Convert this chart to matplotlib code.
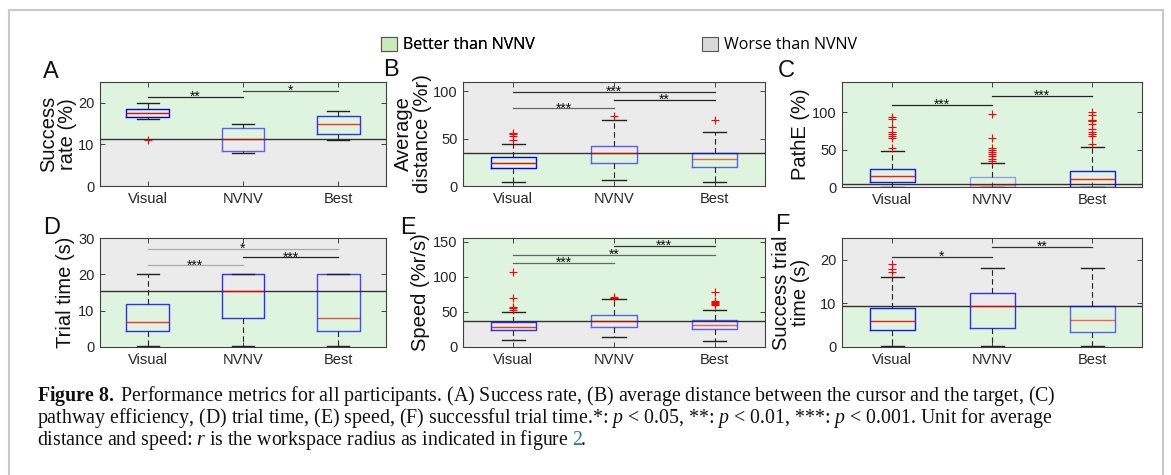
import matplotlib
matplotlib.use('Agg')
import matplotlib.pyplot as plt
from matplotlib.patches import Patch
from matplotlib.lines import Line2D

plt.rcParams['font.family'] = ['Liberation Sans', 'DejaVu Sans']
plt.rcParams['mathtext.fontset'] = 'custom'
plt.rcParams['mathtext.rm'] = 'Liberation Serif'
plt.rcParams['mathtext.it'] = 'Liberation Serif:italic'
plt.rcParams['mathtext.bf'] = 'Liberation Serif:bold'

groups = ['Visual', 'NVNV', 'Best']

# ---------------- data ----------------
# A: success rate (%)
A_med = [17.5, 11.4, 15.0]
A_q1 = [16.5, 8.5, 12.4]
A_q3 = [18.6, 14.0, 16.9]
A_lo = [16.0, 8.0, 11.0]
A_hi = [20.0, 15.0, 18.0]
A_fliers = [[11.0], [], []]
A_ref = 11.4
A_sig_pairs = [(1, 2), (2, 3)]
A_sig_y = [21.4, 22.9]
A_sig_txt = ['**', '*']

# B: average distance (%r)
B_med = [24.0, 34.7, 28.6]
B_q1 = [19.5, 24.7, 20.1]
B_q3 = [30.5, 42.1, 35.3]
B_lo = [4.0, 6.5, 4.0]
B_hi = [44.0, 69.3, 57.0]
B_fliers = [[49.0, 53.0, 55.0, 56.0], [74.5], [70.0]]
B_ref = 34.7
B_sig_pairs = [(1, 3), (2, 3), (1, 2)]
B_sig_y = [99.7, 91.0, 82.0]
B_sig_txt = ['***', '**', '***']

# C: path efficiency (%)
C_med = [14.5, 3.0, 10.5]
C_q1 = [7.0, 0.0, 0.0]
C_q3 = [24.4, 13.8, 21.8]
C_lo = [0.0, 0.0, 0.0]
C_hi = [48.5, 32.4, 53.3]
C_fliers = [[52.0, 66.0, 68.0, 71.0, 73.0, 80.0, 91.0, 94.0],
            [35.0, 38.0, 41.0, 44.0, 47.0, 50.0, 52.0, 65.0, 98.0],
            [57.0, 68.0, 71.0, 74.0, 78.0, 84.0, 88.0, 89.0, 90.0, 96.0, 100.0]]
C_ref = 4.0
C_sig_pairs = [(1, 2), (2, 3)]
C_sig_y = [110.0, 122.0]
C_sig_txt = ['***', '***']

# D: trial time (s)
D_med = [6.9, 15.3, 8.0]
D_q1 = [4.3, 8.0, 4.5]
D_q3 = [11.8, 20.0, 20.0]
D_lo = [0.3, 0.3, 0.3]
D_hi = [20.0, 20.0, 20.0]
D_fliers = [[], [], []]
D_ref = 15.4
D_sig_pairs = [(1, 3), (2, 3), (1, 2)]
D_sig_y = [27.1, 24.7, 22.5]
D_sig_txt = ['*', '***', '***']

# E: speed (%r/s)
E_med = [28.6, 36.7, 31.4]
E_q1 = [23.8, 28.6, 26.2]
E_q3 = [35.2, 44.8, 39.0]
E_lo = [9.5, 14.3, 8.1]
E_hi = [50.0, 67.6, 52.4]
E_fliers = [[52.0, 55.0, 57.0, 69.0, 107.0], [70.0, 71.0],
            [60.0, 61.0, 62.0, 64.0, 65.5, 78.5]]
E_ref = 36.7
E_sig_pairs = [(2, 3), (1, 3), (1, 2)]
E_sig_y = [143.8, 131.4, 119.5]
E_sig_txt = ['***', '**', '***']

# F: successful trial time (s)
F_med = [6.0, 9.3, 6.1]
F_q1 = [3.9, 4.3, 3.4]
F_q3 = [9.0, 12.3, 9.4]
F_lo = [0.3, 0.3, 0.3]
F_hi = [16.0, 18.1, 18.1]
F_fliers = [[17.3, 18.0, 19.1], [], []]
F_ref = 9.3
F_sig_pairs = [(1, 2), (2, 3)]
F_sig_y = [20.7, 23.0]
F_sig_txt = ['*', '**']

# ---------------- styles / layout ----------------
W, H = 1171, 475
GREEN = '#dff4df'
GRAY = '#ebebeb'
AXC = '#262626'


def rect(l, r, t, b):
    return [l / W, 1 - b / H, (r - l) / W, (b - t) / H]


fig = plt.figure(figsize=(W / 100, H / 100), dpi=100)

panels = [
    dict(letter='A', pos=rect(100, 386, 82, 186), lp=(43, 78),
         data=(A_med, A_q1, A_q3, A_lo, A_hi, A_fliers, A_ref, A_sig_pairs, A_sig_y, A_sig_txt),
         ylim=(0, 25), yticks=[0, 10, 20], ylabel='Success\nrate (%)', better='above',
         lx=-0.080, box_alpha=[1.0, 0.6, 0.8], sig_col=['#222222', '#444444']),
    dict(letter='B', pos=rect(463, 765, 82, 186), lp=(383, 76),
         data=(B_med, B_q1, B_q3, B_lo, B_hi, B_fliers, B_ref, B_sig_pairs, B_sig_y, B_sig_txt),
         ylim=(0, 110), yticks=[0, 50, 100], ylabel='Average\ndistance (%r)', better='below',
         lx=-0.103, box_alpha=[1.0, 0.6, 0.6], sig_col=['#333333', '#222222', '#666666']),
    dict(letter='C', pos=rect(842, 1142, 82, 187), lp=(778, 77),
         data=(C_med, C_q1, C_q3, C_lo, C_hi, C_fliers, C_ref, C_sig_pairs, C_sig_y, C_sig_txt),
         ylim=(0, 140), yticks=[0, 50, 100], ylabel='PathE (%)', better='above',
         lx=-0.107, box_alpha=[0.9, 0.35, 0.9], sig_col=['#222222', '#222222']),
    dict(letter='D', pos=rect(100, 386, 238, 347), lp=(43, 234),
         data=(D_med, D_q1, D_q3, D_lo, D_hi, D_fliers, D_ref, D_sig_pairs, D_sig_y, D_sig_txt),
         ylim=(0, 30), yticks=[0, 10, 20, 30], ylabel='Trial time (s)', better='below',
         lx=-0.087, box_alpha=[0.8, 0.8, 0.7], sig_col=['#aaaaaa', '#222222', '#aaaaaa']),
    dict(letter='E', pos=rect(463, 765, 238, 347), lp=(400, 234),
         data=(E_med, E_q1, E_q3, E_lo, E_hi, E_fliers, E_ref, E_sig_pairs, E_sig_y, E_sig_txt),
         ylim=(0, 155), yticks=[0, 50, 100, 150], ylabel='Speed (%r/s)', better='above',
         lx=-0.109, box_alpha=[0.8, 0.6, 0.6], sig_col=['#333333', '#666666', '#666666']),
    dict(letter='F', pos=rect(842, 1142, 238, 347), lp=(775, 231),
         data=(F_med, F_q1, F_q3, F_lo, F_hi, F_fliers, F_ref, F_sig_pairs, F_sig_y, F_sig_txt),
         ylim=(0, 25), yticks=[0, 10, 20], ylabel='Success trial\ntime (s)', better='below',
         lx=-0.107, box_alpha=[0.9, 0.8, 0.6], sig_col=['#333333', '#333333']),
]

positions = [1, 2, 3]
for p in panels:
    ax = fig.add_axes(p['pos'])
    med, q1, q3, lo, hi, fl, ref, pairs, sy, stxt = p['data']
    y0, y1 = p['ylim']
    if p['better'] == 'above':
        ax.axhspan(ref, y1, color=GREEN, zorder=0, lw=0)
        ax.axhspan(y0, ref, color=GRAY, zorder=0, lw=0)
    else:
        ax.axhspan(ref, y1, color=GRAY, zorder=0, lw=0)
        ax.axhspan(y0, ref, color=GREEN, zorder=0, lw=0)
    ax.axhline(ref, color='#333333', lw=1.0, zorder=1)

    for i in range(3):
        st = [dict(med=med[i], q1=q1[i], q3=q3[i], whislo=lo[i], whishi=hi[i],
                   fliers=fl[i], label=groups[i])]
        a = p['box_alpha'][i]
        ax.bxp(st, positions=[positions[i]], widths=0.45, capwidths=0.23,
               manage_ticks=False, zorder=3,
               boxprops=dict(color='#0000ff', lw=1.0, alpha=a),
               medianprops=dict(color='#ff0000', lw=1.0, alpha=a),
               whiskerprops=dict(color='#222222', lw=0.8, linestyle=(0, (5, 3))),
               capprops=dict(color='#222222', lw=1.0),
               flierprops=dict(marker='+', markeredgecolor='#ff0000', markersize=6,
                               markeredgewidth=0.8, linestyle='none'))

    for (g1, g2), yy, tx, c in zip(pairs, sy, stxt, p['sig_col']):
        ax.plot([positions[g1 - 1], positions[g2 - 1]], [yy, yy], color=c, lw=0.9, zorder=4)
        ax.annotate(tx, xy=((positions[g1 - 1] + positions[g2 - 1]) / 2, yy),
                    xytext=(0, -3.0), textcoords='offset points', ha='center',
                    va='baseline', fontsize=10, color='#111111', zorder=5)

    ax.set_xlim(0.5, 3.5)
    ax.set_ylim(y0, y1)
    ax.set_xticks(positions)
    ax.set_xticklabels(groups)
    ax.set_yticks(p['yticks'])
    ax.tick_params(direction='in', length=3.5, width=0.6, top=True, right=True,
                   labelsize=10.5, colors=AXC, pad=4)
    for s in ax.spines.values():
        s.set_color('#404040')
        s.set_linewidth(0.8)
    ax.set_ylabel(p['ylabel'], fontsize=14.5, color='#111111', linespacing=1.0)
    ax.yaxis.set_label_coords(p['lx'], 0.5)
    fig.text(p['lp'][0] / W, 1 - p['lp'][1] / H, p['letter'], fontsize=17,
             va='baseline', ha='left', color='#111111')

# legend
leg1 = fig.legend(handles=[Patch(facecolor='#c8e9b8', edgecolor='#555555', lw=0.8,
                                 label='Better than NVNV')],
                  loc='center left', bbox_to_anchor=(381 / W, 1 - 45 / H), frameon=False,
                  handlelength=1.0, handleheight=1.0, handletextpad=0.4,
                  borderpad=0, borderaxespad=0,
                  prop=dict(family='Open Sans', size=11.5))
leg2 = fig.legend(handles=[Patch(facecolor='#d9d9d9', edgecolor='#555555', lw=0.8,
                                 label='Worse than NVNV')],
                  loc='center left', bbox_to_anchor=(702 / W, 1 - 45 / H), frameon=False,
                  handlelength=1.0, handleheight=1.0, handletextpad=0.4,
                  borderpad=0, borderaxespad=0,
                  prop=dict(family='Open Sans', size=11.5))
fig.add_artist(leg1)

# frame around the figure
for xs, ys in [([9 / W, 9 / W], [0, 1 - 10 / H]),
               ([9 / W, 1163 / W], [1 - 10 / H, 1 - 10 / H]),
               ([1163 / W, 1163 / W], [0, 1 - 10 / H])]:
    fig.add_artist(Line2D(xs, ys, transform=fig.transFigure, color='#c8c8c8', lw=1.5))

# caption
cap_fs = 14.3
cap_kw = dict(family='Liberation Serif', fontsize=cap_fs, color='#111111', va='baseline', ha='left')
line1 = r"$\mathbf{Figure\ 8.}$ Performance metrics for all participants. (A) Success rate, (B) average distance between the cursor and the target, (C)"
line2 = (r"pathway efficiency, (D) trial time, (E) speed, (F) successful trial time.*: $p$ < 0.05, "
         r"**: $p$ < 0.01, ***: $p$ < 0.001. Unit for average")
line3 = r"distance and speed: $r$ is the workspace radius as indicated in figure"
x0 = 37 / W
fig.text(x0, 1 - 401 / H, line1, **cap_kw)
fig.text(x0, 1 - 423 / H, line2, **cap_kw)
t3 = fig.text(x0, 1 - 445 / H, line3, **cap_kw)
fig.canvas.draw()
r = fig.canvas.get_renderer()
bb = t3.get_window_extent(r)
space = cap_fs * 100 / 72 * 0.25
t4 = fig.text((bb.x1 + space * 0.6) / W, 1 - 445 / H, '2', **{**cap_kw, 'color': '#2a7ab8'})
bb4 = t4.get_window_extent(r)
fig.text((bb4.x1 - 1) / W, 1 - 445 / H, '.', **cap_kw)

fig.savefig('out.png', dpi=100)
